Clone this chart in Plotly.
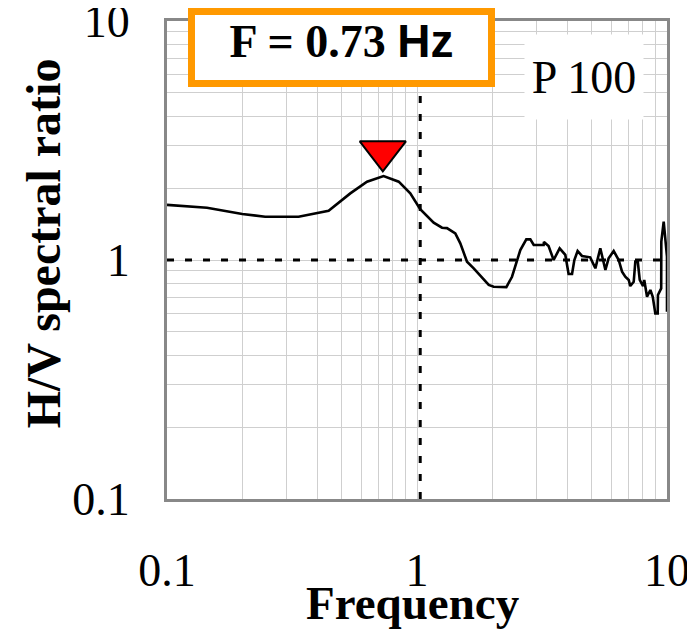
import plotly.graph_objects as go

# H/V spectral ratio curve
freq = [0.1, 0.1445, 0.2, 0.247, 0.336, 0.443, 0.541, 0.631, 0.735, 0.845, 0.94, 1.03,
        1.166, 1.259, 1.318, 1.423, 1.49, 1.585, 1.686, 1.848, 1.936, 2.026, 2.277, 2.399,
        2.512, 2.59, 2.737, 2.84, 2.93, 3.21, 3.22, 3.36, 3.52, 3.72, 3.92, 4.04, 4.17,
        4.26, 4.39, 4.57, 4.93, 5.17, 5.41, 5.45, 5.67, 5.84, 6.12, 6.41, 6.61, 6.81, 7.03,
        7.13, 7.36, 7.47, 7.64, 7.78, 8.02, 8.11, 8.32, 8.58, 8.77, 8.98, 9.18, 9.2, 9.48,
        9.49, 9.70, 10.0, 10.0]
hv_ratio = [1.70, 1.655, 1.557, 1.517, 1.517, 1.608, 1.90, 2.127, 2.246, 2.127, 1.90, 1.63,
            1.432, 1.365, 1.36, 1.293, 1.174, 0.984, 0.923, 0.825, 0.786, 0.773, 0.77, 0.851,
            0.984, 1.101, 1.22, 1.22, 1.155, 1.155, 1.19, 1.144, 1.0, 1.119, 1.05, 0.874, 0.874,
            1.0, 1.09, 1.04, 1.026, 0.923, 1.12, 1.08, 0.908, 1.016, 1.09, 1.0, 0.894, 0.851, 0.825,
            0.778, 0.811, 0.984, 0.984, 0.825, 0.778, 0.825, 0.702, 0.749, 0.702, 0.598, 0.598, 0.714, 0.761,
            1.193, 1.446, 1.032, 0.607]

# Peak marker
peak_freq = [0.73]
peak_ratio = [2.85]

# Reference lines
ref_x = 1.03
ref_y = 1.0

# Ticks
tick_vals = [0.1, 1, 10]
tick_text = ["0.1", "1", "10"]
minor_vals = [m * d for d in (0.1, 1) for m in range(2, 10)]

station_label = "P 100"
freq_label = "F = 0.73"

SERIF = "Liberation Serif, Times New Roman, serif"
GRID = "#cfcfcf"
FRAME = "#888888"

fig = go.Figure()

# dashed reference lines
fig.add_trace(go.Scatter(x=[0.1, 10], y=[ref_y, ref_y], mode="lines",
                         line=dict(color="black", width=3, dash="7px,11px"),
                         showlegend=False, hoverinfo="skip"))
fig.add_trace(go.Scatter(x=[ref_x, ref_x], y=[0.1, 10], mode="lines",
                         line=dict(color="black", width=3, dash="7px,11px"),
                         showlegend=False, hoverinfo="skip"))

# H/V curve
fig.add_trace(go.Scatter(x=freq, y=hv_ratio, mode="lines",
                         line=dict(color="black", width=2.6),
                         showlegend=False))

# peak marker
fig.add_trace(go.Scatter(x=peak_freq, y=peak_ratio, mode="markers",
                         marker=dict(symbol="triangle-down", size=40, color="red",
                                     line=dict(color="black", width=2)),
                         showlegend=False, cliponaxis=False))

axis_common = dict(
    type="log", range=[-1, 1],
    tickvals=tick_vals, ticktext=tick_text,
    tickfont=dict(family=SERIF, size=46, color="black"),
    showgrid=True, gridcolor=GRID, gridwidth=1,
    minor=dict(tickvals=minor_vals, showgrid=True, gridcolor=GRID, gridwidth=1, ticks=""),
    showline=True, linecolor=FRAME, linewidth=3, mirror=True,
    ticks="", zeroline=False, automargin=False, ticklabeloverflow="allow",
)

fig.update_xaxes(**axis_common, ticklabelstandoff=29)
fig.update_yaxes(**axis_common, ticklabelstandoff=25)

# the page adds an 8px body margin, so the figure is sized to fill the rest
fig.update_layout(
    width=687, height=621,
    margin=dict(l=159, r=28, t=13, b=130, autoexpand=False),
    paper_bgcolor="white", plot_bgcolor="white",
    showlegend=False,
    annotations=[
        # frequency box
        dict(xref="paper", yref="paper", x=0.349, y=0.9446,
             xanchor="center", yanchor="middle", showarrow=False,
             text=('<b>' + freq_label + ' </b><span style="font-family:Liberation Sans">'
                   '<b>Hz</b></span>'),
             font=dict(family=SERIF, size=46, color="black"),
             bgcolor="white", bordercolor="#FF9900", borderwidth=7, borderpad=0,
             width=293, height=65, valign="top"),
        # station label
        dict(xref="paper", yref="paper", x=0.834, y=0.882,
             xanchor="center", yanchor="middle", showarrow=False,
             text=station_label,
             font=dict(family=SERIF, size=46, color="black"),
             bgcolor="white", borderpad=0, width=118, height=84),
        # axis titles
        dict(xref="paper", yref="paper", x=0.491, y=-0.2176,
             xanchor="center", yanchor="middle", showarrow=False,
             text="<b>Frequency</b>",
             font=dict(family=SERIF, size=47, color="black")),
        dict(xref="paper", yref="paper", x=-0.248, y=0.535,
             xanchor="center", yanchor="middle", showarrow=False, textangle=-90,
             text="<b>H/V spectral ratio</b>",
             font=dict(family=SERIF, size=48, color="black")),
    ],
)

fig.write_html("out.html")
